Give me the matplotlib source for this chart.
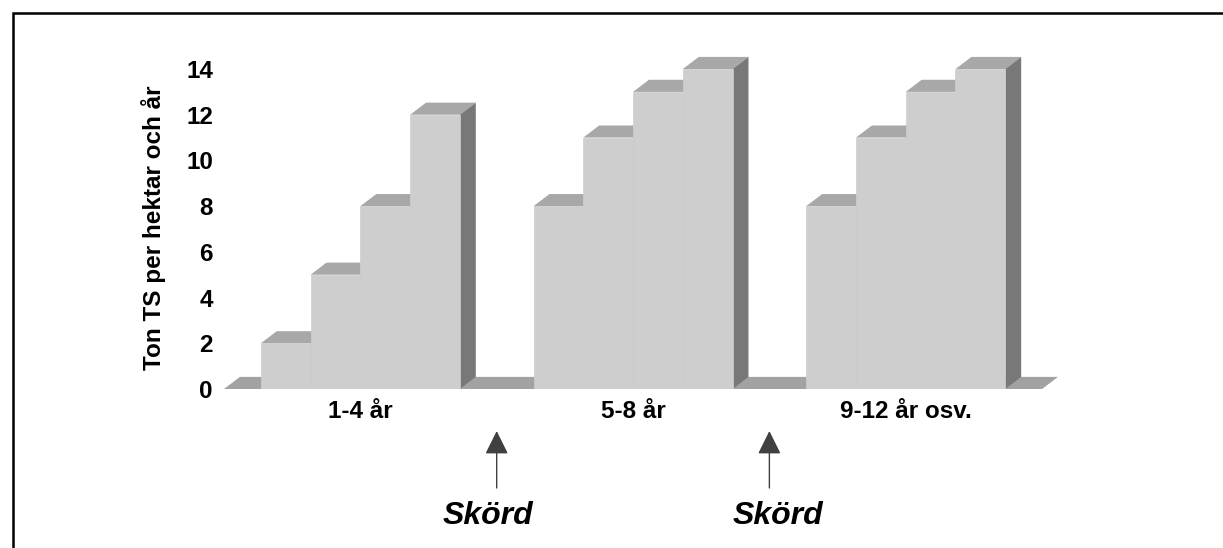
import matplotlib
matplotlib.use("Agg")
import matplotlib.pyplot as plt
from matplotlib.patches import Polygon, Rectangle
from matplotlib.transforms import blended_transform_factory

plt.rcParams['font.family'] = ['Liberation Sans', 'DejaVu Sans']

# ---- data ----
groups = ["1-4 år", "5-8 år", "9-12 år osv."]
values_1_4 = [2, 5, 8, 12]
values_5_8 = [8, 11, 13, 14]
values_9_12 = [8, 11, 13, 14]
yticks = [0, 2, 4, 6, 8, 10, 12, 14]
ylabel = "Ton TS per hektar och år"
harvest_label = "Skörd"

series = [values_1_4, values_5_8, values_9_12]

# ---- style ----
FRONT = "#cecece"
TOP = "#a8a8a8"
SIDE = "#787878"
FLOOR = "#a2a2a2"
CAT = 5.48          # category width in bar widths
GAP = CAT - 4       # gap between groups
DX, DY = 0.32, 0.53  # depth offset in data units
LABEL_SHIFT = [-0.18, 0.18]  # horizontal shift of harvest texts

W, H = 1223, 548
fig = plt.figure(figsize=(W / 100, H / 100), dpi=100)
ax = fig.add_axes([224 / W, (H - 389) / H, (1058 - 224) / W, (389 - 40) / H])

x_left = -GAP / 2
x_right = (len(groups) - 1) * CAT + 4 + GAP / 2
ax.set_xlim(x_left, x_right + DX)
ax.set_ylim(0, 15.27)

# floor
ax.add_patch(Polygon([(x_left, 0), (x_right, 0), (x_right + DX, DY), (x_left + DX, DY)],
                     closed=True, facecolor=FLOOR, edgecolor="none", zorder=1))

for g, vals in enumerate(series):
    xs = [g * CAT + j for j in range(len(vals))]
    ax.bar(xs, vals, width=1.0, align="edge", color=FRONT, edgecolor=FRONT,
           linewidth=0.5, zorder=3)
    for x0, h in zip(xs, vals):
        x1 = x0 + 1
        ax.add_patch(Polygon([(x0, h), (x1, h), (x1 + DX, h + DY), (x0 + DX, h + DY)],
                             closed=True, facecolor=TOP, edgecolor="none", zorder=2))
        ax.add_patch(Polygon([(x1, 0), (x1 + DX, DY), (x1 + DX, h + DY), (x1, h)],
                             closed=True, facecolor=SIDE, edgecolor="none", zorder=2))

for s in ax.spines.values():
    s.set_visible(False)
ax.set_yticks(yticks)
ax.set_yticklabels([str(t) for t in yticks], fontsize=17.5, fontweight="bold")
ax.set_xticks([g * CAT + 2 for g in range(len(groups))])
ax.set_xticklabels(groups, fontsize=17.5, fontweight="bold")
ax.tick_params(axis="both", length=0)
ax.tick_params(axis="y", pad=8)
ax.tick_params(axis="x", pad=8)

fig.text(153 / W, 1 - 228 / H, ylabel, rotation=90, ha="center", va="center",
         fontsize=17.5, fontweight="bold")

# harvest arrows between groups
mixed = blended_transform_factory(ax.transData, fig.transFigure)
for g in range(len(groups) - 1):
    xm = g * CAT + 4 + GAP / 2
    ax.annotate("", xy=(xm, 1 - 431 / H), xytext=(xm, 1 - 488 / H),
                xycoords=("data", "figure fraction"), textcoords=("data", "figure fraction"),
                arrowprops=dict(arrowstyle="-|>,head_length=1.45,head_width=0.72",
                                mutation_scale=10, color="#404040", lw=1.0,
                                shrinkA=0, shrinkB=0))
    ax.text(xm + LABEL_SHIFT[g], 1 - 516 / H, harvest_label, transform=mixed,
            ha="center", va="center", fontsize=23, fontweight="bold", style="italic")

# outer border
fig.add_artist(Rectangle((12.5 / W, -0.1), 1.2, (H - 12.5) / H + 0.1, transform=fig.transFigure,
                         fill=False, edgecolor="black", linewidth=1.8, clip_on=False))

fig.savefig("out.png", dpi=100)
